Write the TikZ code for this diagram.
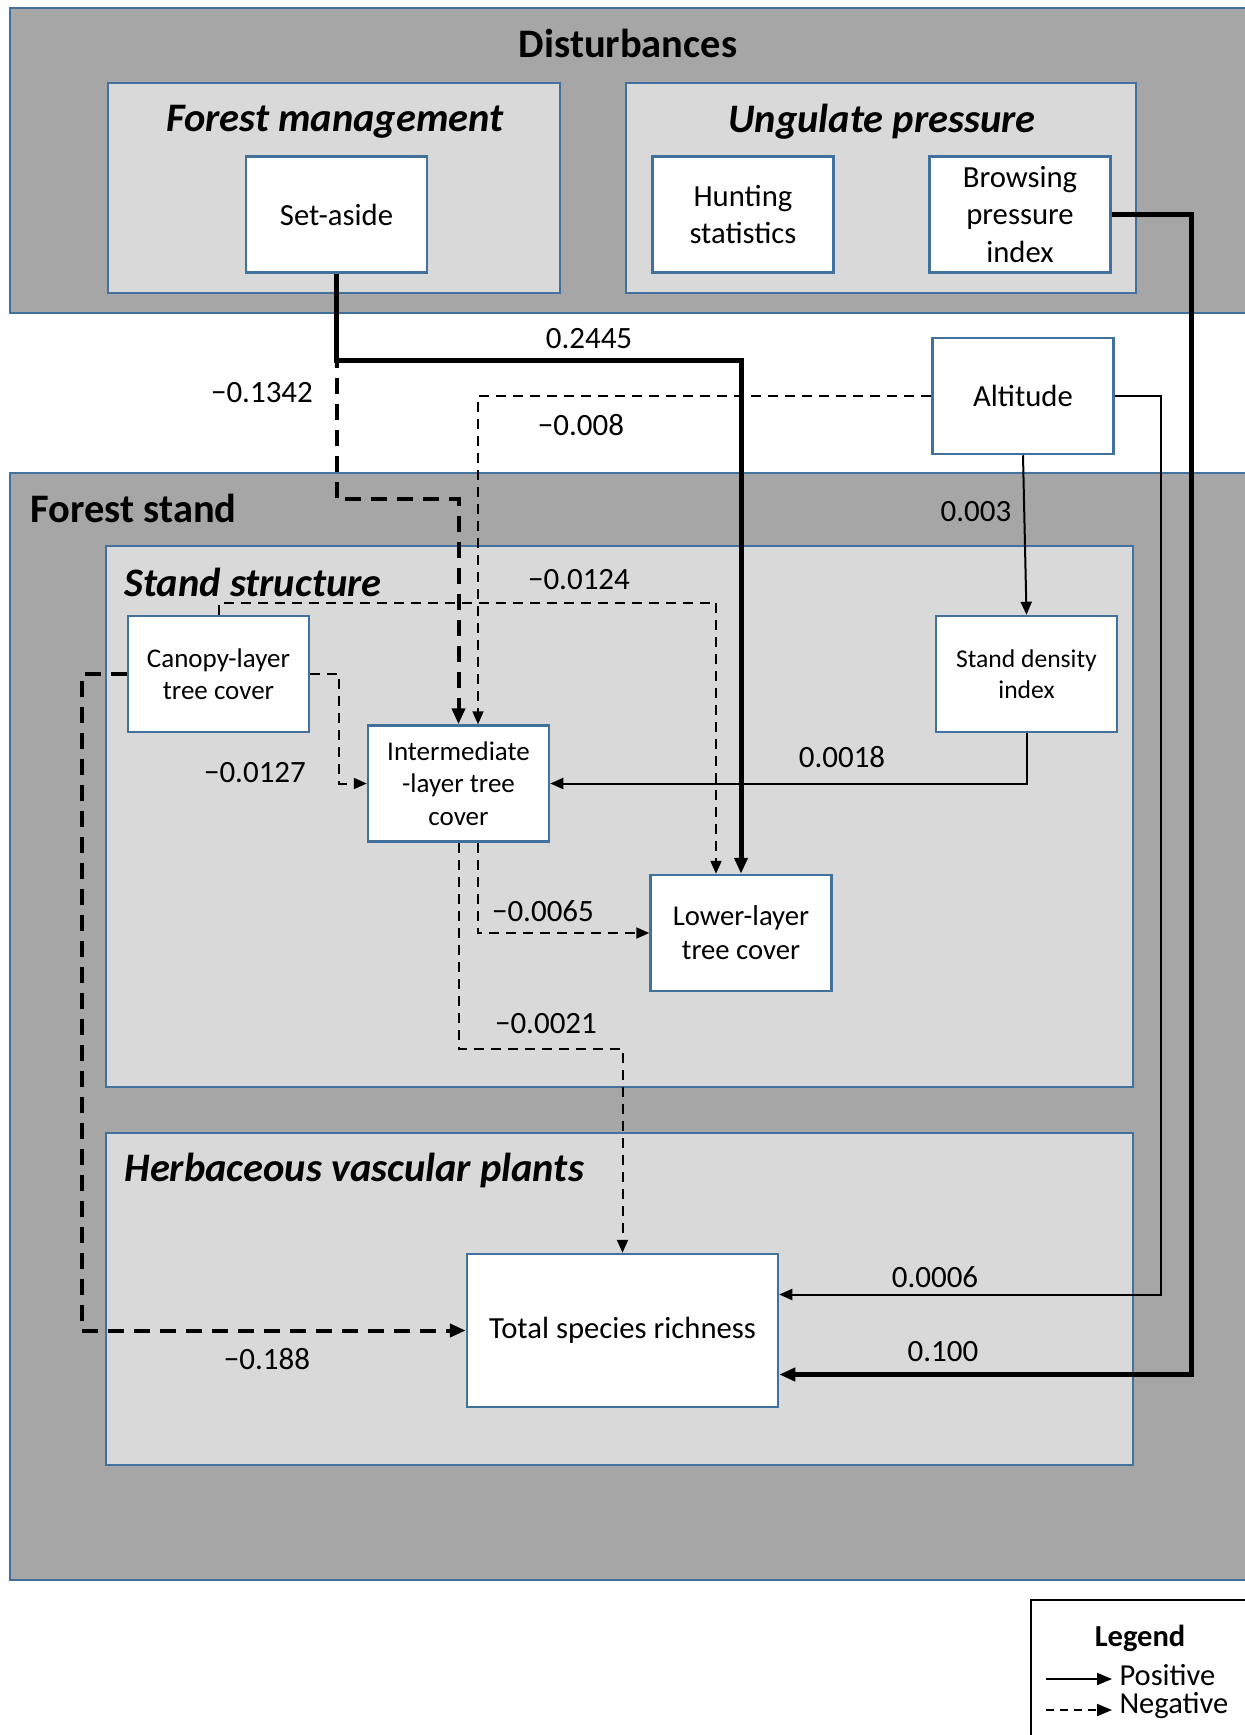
\documentclass[tikz,border=0pt]{standalone}
\usepackage{fontspec}
\setmainfont{Carlito}
\usetikzlibrary{arrows.meta,positioning,calc}
\definecolor{StandBlue}{HTML}{41719C}
\definecolor{StandDark}{HTML}{A6A6A6}
\definecolor{StandLight}{HTML}{D9D9D9}
\definecolor{StandInk}{HTML}{000000}

\begin{document}
\begin{tikzpicture}[x=1pt,y=-1pt]
\tikzset{outer/.style={fill=StandDark,draw=StandBlue,line width=2pt},inner/.style={fill=StandLight,draw=StandBlue,line width=2.5pt},v/.style={draw=StandBlue,fill=white,line width=2.5pt,minimum width=181pt,minimum height=116pt,align=center,inner sep=2pt,font=\fontsize{30.7}{37.5}\selectfont},sm/.style={font=\fontsize{27}{32.5}\selectfont},hd/.style={font=\fontsize{40.5}{46}\selectfont\bfseries},ihd/.style={font=\fontsize{40.5}{46}\selectfont\bfseries\itshape},lbl/.style={font=\fontsize{31}{36}\selectfont},posarr/.style={-{Triangle[length=13pt,width=11pt]},line width=2pt,StandInk},negarr/.style={posarr,dash pattern=on 10pt off 7pt},tposarr/.style={-{Triangle[length=16pt,width=13pt]},line width=5pt,StandInk},tnegarr/.style={tposarr,line width=4pt,dash pattern=on 16pt off 10pt}}
\useasboundingbox (0,0) rectangle (1245,1735);
% groups
\draw[outer] (10,8) rectangle (1260,313);
\draw[inner] (108,83) rectangle (560,293);
\draw[inner] (626,83) rectangle (1136,293);
\draw[outer] (10,473) rectangle (1260,1580);
\draw[inner] (106,546) rectangle (1133,1087);
\draw[inner] (106,1133) rectangle (1133,1465);
\node[hd] (dist) at (628,43) {Disturbances};
\node[ihd] (mgmt) at (335,122) {Forest management};
\node[ihd] (ung) at (882,122) {Ungulate pressure};
\node[hd,anchor=west] (stand) at (27,508) {Forest stand};
\node[ihd,anchor=west] (struct) at (121,582) {Stand structure};
\node[ihd,anchor=west] (herb) at (121,1170) {Herbaceous vascular plants};
% variables
\node[v] (setaside) at (336.5,214.5) {Set-aside};
\node[v] (hunting) at (743,214.5) {Hunting\\statistics};
\node[v] (browsing) at (1020,214.5) {Browsing\\pressure\\index};
\node[v] (altitude) at (1023,396) {Altitude};
\node[v,sm] (canopy) at (218.5,674) {Canopy-layer\\tree cover};
\node[v,sm] (interm) at (458.5,783.5) {Intermediate\\-layer tree\\cover};
\node[v,font=\fontsize{25.6}{30.5}\selectfont] (density) at (1026.5,674) {Stand density\\index};
\node[v,font=\fontsize{28.7}{34}\selectfont] (lower) at (741,933) {Lower-layer\\tree cover};
\node[v,minimum width=311pt,minimum height=153pt] (total) at (622.5,1330.5) {Total species richness};
% paths
\draw[tnegarr] (setaside.south) -- (setaside.south |- 0,499) -| (interm.north);
\draw[tposarr] (setaside.south) -- (setaside.south |- 0,360) -| (lower.north);
\draw[negarr] (altitude.west) -| ([xshift=19.5pt]interm.north);
\draw[posarr] (altitude.south) -- (density.north);
\draw[posarr] (altitude.east) -- ++(46,0) |- ([yshift=36pt]total.east);
\draw[tposarr] (browsing.east) -- ++(80,0) |- ([yshift=-44pt]total.east);
\draw[negarr] (canopy.north) -- ++(0,-12) -| ([xshift=-25pt]lower.north);
\draw[negarr] (canopy.east) -- ++(29,0) |- (interm.west);
\draw[tnegarr] (canopy.west) -- ++(-45,0) |- (total.west);
\draw[posarr] (density.south) |- (interm.east);
\draw[negarr] ([xshift=19pt]interm.south) |- (lower.west);
\draw[negarr] (interm.south) -- ++(0,206) -| (total.north);
% coefficients
\node[lbl] (c1) at (589,339) {0.2445};
\node[lbl] (c2) at (262,393) {−0.1342};
\node[lbl] (c3) at (581,425) {−0.008};
\node[lbl] (c4) at (976,512) {0.003};
\node[lbl] (c5) at (579,580) {−0.0124};
\node[lbl] (c6) at (255,773) {−0.0127};
\node[lbl] (c7) at (842,757) {0.0018};
\node[lbl] (c8) at (543,911) {−0.0065};
\node[lbl] (c9) at (546,1024) {−0.0021};
\node[lbl] (c10) at (935,1277) {0.0006};
\node[lbl] (c11) at (943,1352) {0.100};
\node[lbl] (c12) at (267,1359) {−0.188};
% legend
\draw[line width=2pt] (1031,1600) rectangle (1260,1750);
\node[font=\fontsize{30.5}{35}\selectfont\bfseries] (leg) at (1140,1638) {Legend};
\coordinate (p0) at (1046,1679); \coordinate (n0) at (1046,1710);
\node[lbl,font=\fontsize{30.5}{35}\selectfont,anchor=west] (ptxt) at (1116,1675) {Positive};
\node[lbl,font=\fontsize{30.5}{35}\selectfont,anchor=west] (ntxt) at (1116,1706) {Negative};
\draw[posarr,-{Triangle[length=15pt,width=12pt]}] (p0) -- ([xshift=-4pt]ptxt.west |- p0);
\draw[posarr,-{Triangle[length=15pt,width=12pt]},dash pattern=on 8pt off 6pt] (n0) -- ([xshift=-4pt]ntxt.west |- n0);
\end{tikzpicture}
\end{document}
